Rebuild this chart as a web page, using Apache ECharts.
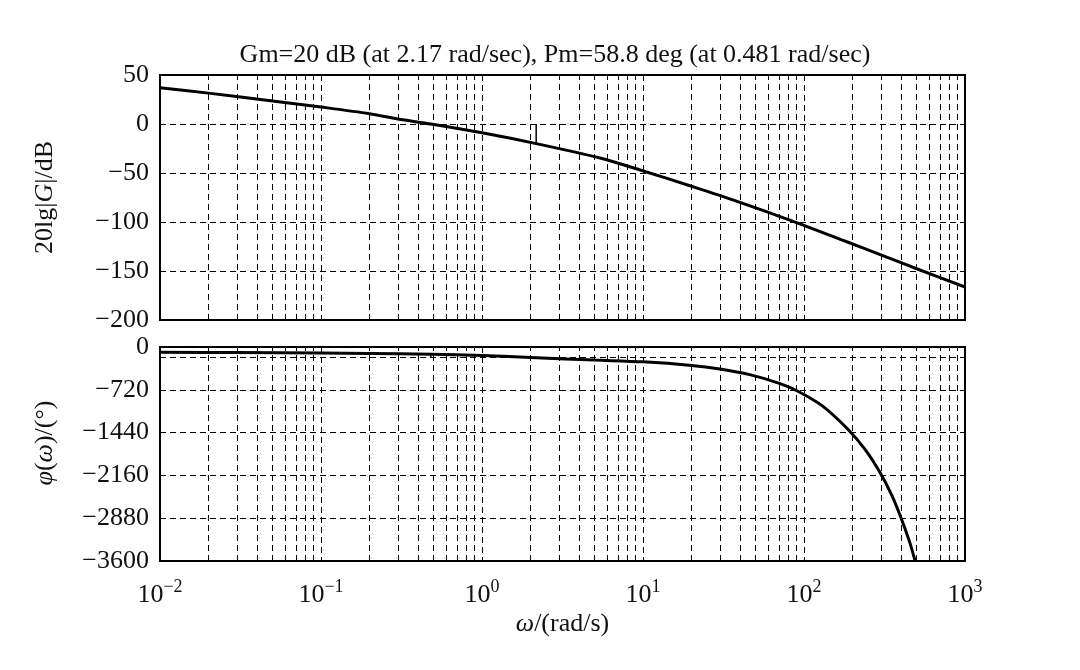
<!DOCTYPE html>
<html>
<head>
<meta charset="utf-8">
<script src="https://cdn.jsdelivr.net/npm/echarts@6/dist/echarts.min.js"></script>
<style>
  html, body { margin: 0; padding: 0; background: #fff; }
  #main { width: 1080px; height: 670px; }
</style>
</head>
<body>
<div id="main"></div>
<script>
// 频率 (rad/s) 与幅值 (dB)
var magFreq = [0.01, 0.02, 0.05, 0.1, 0.2, 0.3, 0.481, 1, 2.17, 5.4, 9.6, 19.8, 36.5, 81.6, 186, 300, 525, 1000];
var magDb = [37, 31.5, 23.5, 17.3, 10.5, 5, 0, -9, -20, -34.7, -46.9, -63.3, -77.6, -98, -120.4, -133.5, -149, -166.3];

// 频率 (rad/s) 与相角 (deg)
var phaseFreq = [0.01, 0.03, 0.1, 0.2, 0.481, 1, 2.17, 5, 10, 20, 30, 46, 71, 91, 130, 186, 240, 296, 350, 395, 450, 490];
var phaseDeg = [-90, -93, -100, -108, -121, -145, -180, -220, -250, -310, -370, -465, -615, -740, -990, -1375, -1727, -2108, -2486, -2830, -3257, -3600];

// 裕度
var gmFreq = 2.17, gmDb = 20;
var pmFreq = 0.481, pmDeg = 58.8;

// 对数坐标网格
var decadeExps = [-2, -1, 0, 1, 2];
var minorMult = [2, 3, 4, 5, 6, 7, 8, 9];

var FONT = 'Liberation Serif';
var FS = 26;
var minor = [];
decadeExps.forEach(function (e) {
  minorMult.forEach(function (m) {
    minor.push({xAxis: m * Math.pow(10, e)});
  });
});

function zip(xs, ys) {
  return xs.map(function (x, i) { return [x, ys[i]]; });
}
function minus(v) {
  return String(v).replace('-', '\u2212');
}

var dashStyle = {color: '#000', width: 1, type: [6, 4]};
var nameRich = {
  i: {fontFamily: FONT, fontSize: FS, fontStyle: 'italic', color: '#111'},
  n: {fontFamily: FONT, fontSize: FS, color: '#111'}
};

var myChart = echarts.init(document.getElementById('main'));
var option = {
  backgroundColor: '#fff',
  animation: false,
  title: {
    text: 'Gm=20 dB (at 2.17 rad/sec), Pm=58.8 deg (at 0.481 rad/sec)',
    left: 550,
    textAlign: 'center',
    top: 37,
    textStyle: {fontFamily: FONT, fontSize: FS, fontWeight: 'normal', color: '#111'}
  },
  grid: [
    {left: 160, top: 75, width: 805, height: 245, show: true, borderColor: '#000', borderWidth: 2},
    {left: 160, top: 347, width: 805, height: 214, show: true, borderColor: '#000', borderWidth: 2}
  ],
  xAxis: [
    {
      type: 'log', gridIndex: 0, logBase: 10, min: 0.01, max: 1000,
      axisLine: {show: false}, axisTick: {show: false}, axisLabel: {show: false},
      splitLine: {show: true, lineStyle: dashStyle}
    },
    {
      type: 'log', gridIndex: 1, logBase: 10, min: 0.01, max: 1000,
      axisLine: {show: false}, axisTick: {show: false},
      splitLine: {show: true, lineStyle: dashStyle},
      axisLabel: {
        margin: 17,
        formatter: function (v) {
          var e = Math.round(Math.log10(v));
          return '{b|10}{s|' + minus(e) + '}';
        },
        rich: {
          b: {fontFamily: FONT, fontSize: FS, color: '#111'},
          s: {fontFamily: FONT, fontSize: 18, color: '#111', padding: [0, 0, 16, 0]}
        }
      },
      name: '{i|ω}{n|/(rad/s)}',
      nameLocation: 'middle',
      nameGap: 50,
      nameTextStyle: {rich: nameRich}
    }
  ],
  yAxis: [
    {
      type: 'value', gridIndex: 0, min: -200, max: 50, interval: 50,
      axisLine: {show: false}, axisTick: {show: false},
      splitLine: {show: true, lineStyle: dashStyle},
      axisLabel: {margin: 11, fontFamily: FONT, fontSize: FS, color: '#111', formatter: minus},
      name: '{n|20lg|}{i|G}{n||/dB}',
      nameLocation: 'middle',
      nameGap: 102,
      nameTextStyle: {rich: nameRich}
    },
    {
      type: 'value', gridIndex: 1, min: -3600, max: 0, interval: 720,
      axisLine: {show: false}, axisTick: {show: false},
      splitLine: {show: true, lineStyle: dashStyle},
      axisLabel: {margin: 11, fontFamily: FONT, fontSize: FS, color: '#111', formatter: minus},
      name: '{i|φ}{n|(}{i|ω}{n|)/(°)}',
      nameLocation: 'middle',
      nameGap: 102,
      nameTextStyle: {rich: nameRich, padding: [0, 0, 0, 22]}
    }
  ],
  series: [
    {
      name: 'mag', type: 'line', xAxisIndex: 0, yAxisIndex: 0,
      data: zip(magFreq, magDb), smooth: 0.3, symbol: 'none',
      lineStyle: {color: '#000', width: 3},
      z: 5,
      markLine: {
        silent: true, symbol: 'none', label: {show: false},
        lineStyle: dashStyle, animation: false,
        data: minor
      }
    },
    {
      name: 'gm', type: 'line', xAxisIndex: 0, yAxisIndex: 0,
      data: [[gmFreq, 0], [gmFreq, -gmDb]], symbol: 'none',
      lineStyle: {color: '#000', width: 1.5}
    },
    {
      name: 'phase', type: 'line', xAxisIndex: 1, yAxisIndex: 1,
      data: zip(phaseFreq, phaseDeg), smooth: 0.3, symbol: 'none',
      lineStyle: {color: '#000', width: 3},
      z: 5,
      markLine: {
        silent: true, symbol: 'none', label: {show: false},
        lineStyle: dashStyle, animation: false,
        data: minor.concat([{yAxis: -180}])
      }
    },
    {
      name: 'pm', type: 'line', xAxisIndex: 1, yAxisIndex: 1,
      data: [[pmFreq, -180], [pmFreq, -180 + pmDeg]], symbol: 'none',
      lineStyle: {color: '#000', width: 1.5}
    }
  ]
};
myChart.setOption(option);
</script>
</body>
</html>
